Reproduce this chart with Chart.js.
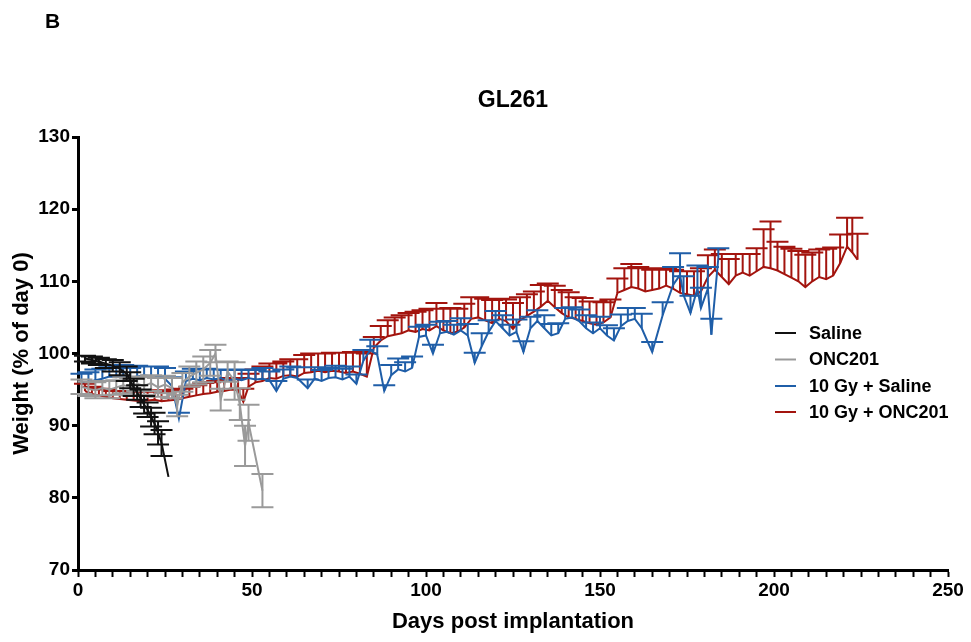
<!DOCTYPE html>
<html>
<head>
<meta charset="utf-8">
<title>GL261</title>
<script src="https://cdn.jsdelivr.net/npm/chart.js@4.4.1/dist/chart.umd.min.js"></script>
<style>
  html, body { margin: 0; padding: 0; background: #fff; }
  #wrap { width: 971px; height: 642px; }
</style>
</head>
<body>
<div id="wrap"><canvas id="weightChart" width="971" height="642"></canvas></div>
<script>
// Body weight (% of day 0), mean with SEM
const salineDays = [2, 4, 6, 8, 10, 12, 14, 15, 16, 17, 18, 19, 20, 21, 22, 23, 24, 26];
const salineWeight = [99.3, 99.1, 98.9, 98.6, 98.3, 97.9, 97.2, 96.3, 95.3, 94.6, 93.8, 92.9, 92.2, 91.2, 90.3, 89.0, 87.6, 82.9];
const salineErr = [0.4, 0.5, 0.5, 0.6, 0.8, 0.9, 1.0, 1.1, 1.2, 1.0, 1.2, 1.2, 1.0, 1.3, 1.5, 1.6, 1.8, 0];

const oncDays = [1, 3, 5, 7, 9, 11, 13, 15, 17, 19, 21, 23, 25, 27, 28.5, 30, 32, 34, 36, 38, 39.5, 41, 43, 45, 46.5, 48, 49, 53];
const oncWeight = [95.4, 95.1, 94.9, 95.2, 95.0, 95.3, 95.6, 95.4, 95.8, 95.5, 95.9, 95.3, 95.7, 95.2, 92.8, 96.0, 96.8, 97.3, 97.8, 98.7, 100.0, 93.6, 97.5, 96.2, 93.0, 87.2, 90.4, 81.0];
const oncErr = [1.0, 1.0, 1.1, 1.0, 1.2, 1.0, 1.1, 1.2, 1.0, 1.2, 1.1, 1.3, 1.2, 1.4, 1.5, 1.3, 1.4, 1.6, 1.8, 1.8, 1.2, 1.5, 1.4, 2.6, 2.2, 2.8, 2.5, 2.3];

const rtSalineDays = [1, 3, 5, 7, 9, 11, 13, 15, 17, 19, 21, 23, 25, 27, 29, 31, 33, 35, 37, 39, 41, 43, 45, 47, 49, 51, 53, 55, 57, 59, 61, 63, 66, 68, 70, 72, 74, 76, 78, 80, 82, 84, 86, 88, 90, 92, 94, 96, 98, 100, 102, 104, 106, 108, 110, 112, 114, 116, 118, 120, 122, 124, 126, 128, 130, 132, 134, 136, 138, 140, 142, 144, 146, 148, 150, 152, 154, 156, 158, 160, 162, 165, 168, 171, 173, 174, 176, 178, 179, 181, 182, 184];
const rtSalineWeight = [96.0, 96.1, 96.3, 96.5, 96.8, 96.7, 96.9, 96.6, 96.8, 97.0, 96.8, 96.9, 96.5, 95.5, 91.0, 96.2, 96.5, 96.3, 96.6, 96.4, 96.6, 96.2, 96.5, 96.3, 96.6, 96.4, 96.5, 96.3, 94.8, 96.5, 96.8, 96.6, 95.2, 96.5, 96.2, 96.6, 96.7, 96.4, 96.8, 95.8, 99.0, 100.5, 99.8, 94.8, 97.0, 97.8, 97.5, 98.0, 102.3, 102.5, 100.0, 102.8, 103.0, 102.6, 103.2, 102.5, 98.7, 101.0, 103.0, 104.5, 103.5, 102.5, 103.0, 100.2, 103.5, 104.5, 103.5, 102.5, 102.8, 104.8, 105.0, 104.5, 103.5, 102.8, 103.5, 102.5, 101.8, 103.8, 104.5, 104.8, 103.5, 100.2, 105.3, 109.5, 110.9, 108.1, 105.6, 109.0, 106.3, 109.0, 102.6, 113.2];
const rtSalineErr = [1.2, 1.3, 1.5, 1.4, 1.5, 1.3, 1.5, 1.4, 1.5, 1.2, 1.4, 1.3, 1.5, 1.2, 0.8, 1.3, 1.4, 1.5, 1.3, 1.4, 1.2, 1.5, 1.3, 1.4, 1.2, 1.3, 1.5, 1.2, 1.4, 1.3, 1.4, 1.5, 1.2, 1.6, 1.5, 1.4, 1.6, 1.5, 1.4, 1.3, 1.5, 1.4, 1.2, 0.8, 1.4, 1.5, 1.3, 1.6, 1.4, 1.5, 1.2, 1.6, 1.5, 1.4, 1.7, 1.6, 1.4, 1.8, 1.6, 1.4, 1.8, 1.5, 1.7, 1.5, 1.6, 1.5, 1.8, 1.6, 1.4, 1.5, 1.4, 1.6, 1.8, 1.5, 1.6, 1.4, 1.7, 1.6, 1.8, 1.5, 2.0, 1.4, 1.8, 2.5, 3.0, 2.6, 2.4, 3.2, 2.8, 3.0, 2.2, 1.4];

const rtOncDays = [2, 4, 6, 8, 10, 12, 14, 16, 18, 20, 22, 24, 26, 28, 30, 32, 34, 36, 38, 40, 42, 44, 46, 47.5, 49, 51, 53, 55, 57, 59, 61, 63, 65, 67, 69, 71, 73, 75, 77, 79, 81, 83, 85, 87, 89, 91, 93, 95, 97, 99, 101, 103, 105, 107, 109, 111, 113, 115, 117, 119, 121, 123, 125, 127, 129, 131, 133, 135, 137, 139, 141, 143, 145, 147, 149, 151, 153, 155, 157, 159, 161, 163, 165, 167, 169, 171, 173, 175, 177, 179, 181, 183, 185, 187, 189, 191, 193, 195, 197, 199, 201, 203, 205, 207, 209, 211, 213, 215, 217, 219, 221, 222.5, 224];
const rtOncWeight = [94.8, 94.4, 94.2, 94.0, 93.8, 93.7, 93.6, 93.5, 93.4, 93.5, 93.6, 93.4, 93.5, 93.6, 93.8, 94.0, 94.2, 94.4, 94.5, 94.7, 94.8, 95.0, 94.9, 93.3, 95.4, 96.0, 96.2, 96.6, 96.5, 96.9, 97.0, 96.8, 97.3, 97.4, 97.6, 97.4, 97.6, 97.5, 97.3, 97.5, 97.2, 96.8, 100.8, 101.8, 102.4, 102.6, 102.8, 103.2, 103.0, 103.4, 103.2, 103.8, 103.2, 102.8, 103.0, 103.6, 104.8, 105.0, 104.6, 104.2, 104.8, 104.5, 103.4, 104.6, 105.2, 105.8, 106.5, 107.3, 106.4, 105.6, 105.0, 104.8, 104.5, 104.2, 104.0, 104.3, 105.0, 108.4, 108.8, 109.2, 109.0, 108.6, 108.8, 109.0, 109.4, 109.0, 108.4, 108.2, 108.0, 108.6, 110.6, 111.6, 110.6, 109.6, 110.8, 111.2, 110.8, 111.4, 112.0, 111.8, 111.5, 111.0, 110.5, 110.0, 109.2, 110.0, 110.6, 110.3, 110.8, 112.5, 114.8, 114.0, 113.0];
const rtOncErr = [1.0, 1.0, 0.9, 1.0, 1.0, 1.1, 1.2, 1.2, 1.3, 1.2, 1.3, 1.3, 1.4, 1.4, 1.3, 1.4, 1.4, 1.5, 1.5, 1.5, 1.6, 1.6, 1.7, 1.8, 1.8, 1.8, 2.0, 2.0, 2.1, 2.0, 2.2, 2.4, 2.5, 2.6, 2.4, 2.6, 2.5, 2.6, 2.8, 2.7, 3.0, 3.2, 1.5, 2.0, 2.2, 2.4, 2.5, 2.4, 2.8, 2.6, 3.0, 3.2, 3.0, 3.5, 3.2, 3.3, 3.0, 2.8, 3.0, 3.2, 2.8, 3.0, 3.6, 3.2, 3.0, 2.8, 3.0, 2.4, 3.0, 3.2, 3.5, 3.0, 3.2, 3.0, 3.2, 2.8, 2.5, 2.0, 3.0, 3.2, 3.0, 3.2, 2.8, 2.6, 2.4, 2.6, 3.0, 3.2, 3.4, 3.2, 3.0, 2.8, 3.2, 3.5, 3.0, 2.6, 3.0, 3.2, 5.2, 6.5, 4.0, 3.8, 4.0, 4.2, 4.5, 4.0, 3.8, 4.2, 3.9, 4.0, 4.0, 4.8, 3.6];

const groupNames = ["Saline", "ONC201", "10 Gy + Saline", "10 Gy + ONC201"];
const groupColors = ["#111111", "#9a9a9a", "#1f5ea8", "#a3140e"];
// error bar direction per group
const errorMode = ["both", "both", "up", "up"];

const groups = [
  { days: salineDays, weight: salineWeight, err: salineErr },
  { days: oncDays, weight: oncWeight, err: oncErr },
  { days: rtSalineDays, weight: rtSalineWeight, err: rtSalineErr },
  { days: rtOncDays, weight: rtOncWeight, err: rtOncErr }
];

const FONT = "'Liberation Sans', Arial, Helvetica, sans-serif";

// draws SEM bars with caps right after each line
const errorBarPlugin = {
  id: "errorBars",
  afterDatasetDraw(chart, args) {
    const g = groups[args.index];
    if (!g) return;
    const ctx = chart.ctx;
    const xs = chart.scales.x, ys = chart.scales.y;
    const cap = 11;
    ctx.save();
    ctx.strokeStyle = groupColors[args.index];
    ctx.lineWidth = 2;
    ctx.beginPath();
    g.days.forEach((d, i) => {
      const e = g.err[i];
      if (!e) return;
      const px = xs.getPixelForValue(d);
      const y0 = ys.getPixelForValue(g.weight[i]);
      const yTop = ys.getPixelForValue(g.weight[i] + e);
      const yBot = errorMode[args.index] === "both" ? ys.getPixelForValue(g.weight[i] - e) : y0;
      ctx.moveTo(px, yBot);
      ctx.lineTo(px, yTop);
      ctx.moveTo(px - cap, yTop);
      ctx.lineTo(px + cap, yTop);
      if (yBot !== y0) {
        ctx.moveTo(px - cap, yBot);
        ctx.lineTo(px + cap, yBot);
      }
    });
    ctx.stroke();
    ctx.restore();
  }
};

// panel letter, title and legend
const decorPlugin = {
  id: "decor",
  afterDraw(chart) {
    const ctx = chart.ctx;
    const area = chart.chartArea;
    ctx.save();
    ctx.fillStyle = "#000";
    ctx.textBaseline = "middle";
    ctx.font = "bold 21px " + FONT;
    ctx.textAlign = "left";
    ctx.fillText("B", 45, 22);
    ctx.font = "bold 23px " + FONT;
    ctx.textAlign = "center";
    ctx.fillText("GL261", (area.left + area.right) / 2, 101);

    ctx.font = "bold 18px " + FONT;
    ctx.textAlign = "left";
    const rowY = [333, 359.5, 386, 412];
    chart.data.datasets.forEach((ds, i) => {
      ctx.strokeStyle = ds.borderColor;
      ctx.lineWidth = 2;
      ctx.beginPath();
      ctx.moveTo(775, rowY[i]);
      ctx.lineTo(796, rowY[i]);
      ctx.stroke();
      ctx.fillStyle = "#000";
      ctx.fillText(ds.label, 809, rowY[i] + 1);
    });
    ctx.restore();
  }
};

const datasets = groups.map((g, i) => ({
  label: groupNames[i],
  data: g.days.map((d, j) => ({ x: d, y: g.weight[j] })),
  borderColor: groupColors[i],
  backgroundColor: groupColors[i],
  borderWidth: 2,
  pointRadius: 0,
  showLine: true,
  tension: 0,
  clip: false
}));

new Chart(document.getElementById("weightChart"), {
  type: "scatter",
  data: { datasets: datasets },
  plugins: [errorBarPlugin, decorPlugin],
  options: {
    responsive: false,
    animation: false,
    layout: { padding: { left: 0, top: 137, right: 23, bottom: 0 } },
    plugins: {
      legend: { display: false },
      title: { display: false },
      tooltip: { enabled: false }
    },
    scales: {
      x: {
        type: "linear",
        min: 0,
        max: 250,
        afterFit: (s) => { s.height = 72; },
        border: { display: true, color: "#000", width: 3 },
        grid: { drawOnChartArea: false, color: "#000", tickLength: 7, tickWidth: 2 },
        ticks: {
          stepSize: 5,
          autoSkip: false,
          maxRotation: 0,
          padding: 2,
          color: "#000",
          font: { family: FONT, size: 19, weight: "bold" },
          callback: (v) => (v % 50 === 0 ? v : "")
        },
        title: {
          display: true,
          text: "Days post implantation",
          color: "#000",
          font: { family: FONT, size: 22, weight: "bold" },
          padding: { top: 0, bottom: 7 }
        }
      },
      y: {
        type: "linear",
        min: 70,
        max: 130,
        afterFit: (s) => { s.width = 78; },
        border: { display: true, color: "#000", width: 3 },
        grid: { drawOnChartArea: false, color: "#000", tickLength: 6, tickWidth: 3 },
        ticks: {
          stepSize: 10,
          padding: 2,
          color: "#000",
          font: { family: FONT, size: 19, weight: "bold" }
        },
        title: {
          display: true,
          text: "Weight (% of day 0)",
          color: "#000",
          font: { family: FONT, size: 22, weight: "bold" },
          padding: { top: 9, bottom: 0 }
        }
      }
    }
  }
});
</script>
</body>
</html>
